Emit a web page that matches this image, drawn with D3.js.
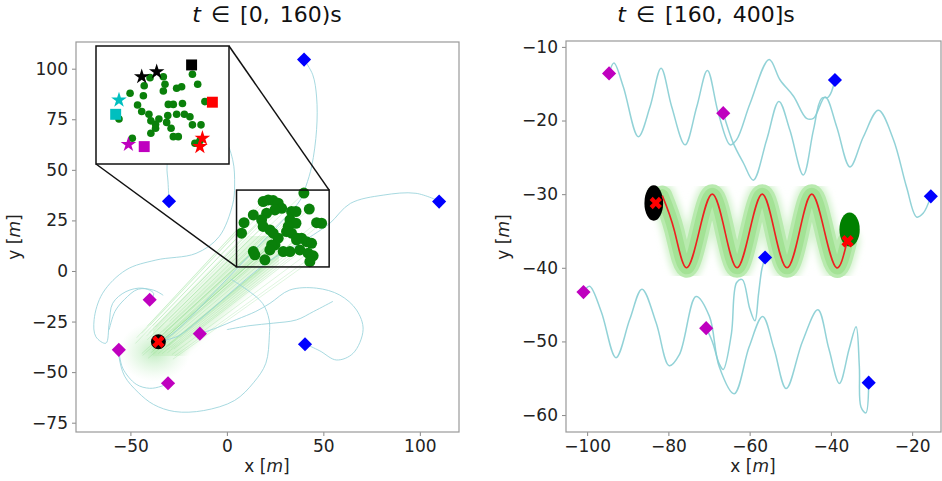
<!DOCTYPE html>
<html><head><meta charset="utf-8">
<script src="https://cdn.jsdelivr.net/npm/d3@7"></script>
<style>body{margin:0;background:#fff} svg{display:block} text{font-family:"DejaVu Sans",sans-serif}</style>
</head><body><svg id="c" width="942" height="481"></svg>
<script>
// ---------------- DATA ----------------
// Left panel: t in [0,160)s
const leftBlueX = [40, -30, 110, 40.5];
const leftBlueY = [104.5, 34.5, 34.3, -36.2];
const leftMagX = [-40, -56, -14, -30.5];
const leftMagY = [-14.2, -39, -31, -55.5];
const leftTarget = [-35.5, -35];
// zoom region of the inset
const zoomX = [5, 53];
const zoomY = [2, 40];
// green agents as seen in the inset
const dotsX = [24.5,29.3,29.9,29.3,22.4,22.1,17.3,20.0,21.5,24.1,24.8,26.5,24.8,18.1,13.3,31.1,32.9,36.2,34.1,35.9,39.8,41.7,44.3,30.9,34.1,36.9,38.9,32.1,32.9,34.7,39.8,42.9,40.7,26.5,30.5,27.7,42.5];
const dotsY = [29.8,30.1,27.7,25.5,27.2,24.0,24.8,21.0,18.9,18.0,15.9,14.8,11.9,10.3,16.5,21.2,21.2,21.5,26.4,26.9,30.9,27.7,22.1,17.6,18.0,18.0,17.2,13.5,10.8,10.8,14.6,14.6,8.7,13.5,15.4,16.5,9.5];
// green agents as seen in the main axes box
const boxDotsX = [39.9,18.8,21.4,24.0,26.6,28.4,24.9,20.6,13.7,8.9,18.0,18.8,22.3,24.0,26.6,24.9,33.5,35.8,42.7,32.7,35.8,31.8,30.9,33.5,36.4,38.7,41.3,43.9,46.5,49.1,37.8,42.1,44.7,43.0,7.6,13.7,14.5,19.7,23.2,22.3,29.2,32.7,36.1];
const boxDotsY = [38.5,34.3,35.1,34.8,33.5,31.0,30.2,28.6,27.7,23.9,25.3,22.0,20.3,18.7,16.2,12.9,29.4,29.4,30.6,25.3,23.6,22.0,19.5,18.7,16.2,16.2,14.5,13.7,23.9,23.6,10.4,8.8,7.5,4.6,18.7,9.6,8.0,5.5,12.9,10.4,9.6,9.6,15.4];
// inset markers
const starX = [21.5, 26.9, 13.3, 43.4, 42.5, 16.7];
const starY = [30.1, 31.7, 22.6, 10.3, 7.6, 8.3];
const starC = ["#000000","#000000","#00bfbf","#ff0000","#ff0000","#bf00bf"];
const sqX = [39.5, 12.1, 47.0, 22.4];
const sqY = [33.9, 18.0, 21.9, 7.6];
const sqC = ["#000000","#00bfbf","#ff0000","#bf00bf"];
// left trajectories (x,y pairs)
const leftTraj1 = [[40,104.5],[44.5,97],[46.5,86],[46.5,70],[44,52],[41,42],[38,35],[30,26],[18,14],[6,2],[-6,-10],[-18,-22],[-28,-31],[-35,-35]];
const leftTraj2 = [[110.9,34.2],[98,38.4],[81,37.5],[64,33.4],[53.4,23.6],[45,18],[35,12],[22,5],[10,-4],[-2,-14],[-14,-24],[-25,-32],[-35,-35]];
const leftTraj3 = [[-30,34.6],[-30.5,44],[-31,52],[-28,65],[-15,72],[-2,66],[3,55],[4,42],[3,33],[-4,17],[-16,8.7],[-36.8,5.4],[-52.3,0.5],[-64.4,-11],[-68.8,-24],[-67.9,-32.5],[-62.7,-35.7],[-61,-25.8],[-59.2,-16],[-52.3,-10.2],[-43.7,-8.5],[-38,-11],[-39,-14]];
const leftTraj4 = [[40.9,-36.2],[48.2,-39.5],[56.8,-44],[65.4,-40.7],[70.6,-29],[67.2,-19.3],[58.5,-11.9],[46.5,-8.5],[32.6,-9.4],[22.3,-16],[15,-20],[5,-24],[-5,-28],[-14,-31]];
const leftTraj5 = [[-56,-39],[-55.8,-43],[-53,-52],[-46,-60],[-38,-66],[-27,-69.5],[-12,-69],[4,-64],[14,-55],[20.2,-45.6],[22,-32],[21.9,-24.2],[18.5,-16],[10,-9],[2,-4]];
const leftTraj6 = [[-56,-39],[-54,-48],[-47,-56],[-40,-58],[-34,-57],[-30.5,-55.5]];
const leftTraj7 = [[-61,-29],[-58,-20],[-53,-14],[-46,-9],[-38,-9.5],[-33,-12]];
const leftTraj8 = [[55,-15],[45,-20],[36,-24.2],[24,-25.8],[12,-27],[0,-29]];

// Right panel: t in [160,400]s
const rightBlueX = [-39.0, -15.4, -56.2, -30.7];
const rightBlueY = [-14.5, -30.3, -38.6, -55.6];
const rightMagX = [-94.6, -66.5, -100.9, -70.7];
const rightMagY = [-13.6, -19.0, -43.3, -48.2];
const waveX = [-81.5,-78.5,-75.6,-72.4,-69.2,-66.1,-63.1,-60.0,-56.9,-53.9,-50.8,-47.7,-44.7,-41.6,-38.6,-36.0];
const waveY = [-30.2,-35,-40,-35,-30,-35,-40,-35,-30,-35,-40,-35,-30,-35,-40,-36.4];
const blobX = [-83.6, -35.4];
const blobY = [-31.2, -34.8];
const blobRx = [2.3, 2.5];
const blobRy = [2.4, 2.3];
const blobC = ["#000000", "#008000"];
const crossX = [-83.1, -35.9];
const crossY = [-31.2, -36.4];
const rightTraj1 = [[-94.6,-13.6],[-93.4,-12.2],[-91.1,-15.4],[-87.4,-22.2],[-84.5,-18.1],[-81.8,-12.9],[-79.2,-18.1],[-75.9,-23.3],[-73.0,-18.1],[-70.4,-13.2],[-67.7,-19.0],[-64.8,-23.3],[-63.2,-22.6],[-59.9,-17.7],[-55.2,-11.7],[-52.5,-14.5],[-49.2,-16.7],[-46.0,-19.7],[-44.3,-19.7],[-41.4,-16.8],[-38.6,-20.8],[-35.3,-26.3],[-32.0,-22.2],[-28.3,-18.6],[-24.6,-22.6],[-21.4,-29.0],[-18.9,-33.1],[-17.3,-32.6],[-15.4,-30.3]];
const rightTraj2 = [[-66.5,-19.0],[-64.0,-23.1],[-61.5,-25.8],[-59.1,-28.1],[-55.8,-22.6],[-52.8,-17.4],[-50.1,-21.3],[-46.8,-27.4],[-44.3,-21.3],[-42.3,-17.0],[-40.6,-16.8],[-39.0,-14.5]];
const rightTraj3 = [[-100.9,-43.3],[-99.4,-42.5],[-96.5,-46],[-92.9,-52.2],[-89.5,-47],[-86.5,-42.9],[-83,-47.5],[-79.8,-53.3],[-77.3,-51.8],[-73.2,-43.9],[-69.9,-46.6],[-67.5,-53.4],[-63.8,-57.1],[-60.1,-50.7],[-56.8,-46.6],[-54,-51],[-51.0,-56.4],[-47,-50],[-43.2,-45.7],[-40.5,-51],[-37.9,-55.7],[-35.5,-51],[-33.8,-48.0],[-33.0,-53.4],[-32.6,-58.9],[-31.4,-59.7],[-30.7,-55.6]];
const rightTraj4 = [[-70.7,-48.2],[-69.2,-50],[-67.5,-53],[-66.5,-53.8],[-64.5,-49],[-63.2,-42],[-61.8,-41.6],[-60,-45.5],[-58.7,-47.2],[-57.8,-43.5],[-57,-40.2],[-56.2,-38.6]];

const leftXTicks = [-50, 0, 50, 100];
const leftYTicks = [100, 75, 50, 25, 0, -25, -50, -75];
const rightXTicks = [-100, -80, -60, -40, -20];
const rightYTicks = [-10, -20, -30, -40, -50, -60];

// ---------------- SCALES ----------------
const svg = d3.select("#c");
const Lx = d3.scaleLinear().domain([-78.2, 120.3]).range([76, 459]);
const Ly = d3.scaleLinear().domain([-79.6, 113.2]).range([432, 42]);
const Rx = d3.scaleLinear().domain([-105.2, -12.9]).range([566, 941]);
const Ry = d3.scaleLinear().domain([-62.3, -9.2]).range([432, 41]);
const Ix = d3.scaleLinear().domain(zoomX).range([96, 229]);
const Iy = d3.scaleLinear().domain(zoomY).range([164, 46]);

const defs = svg.append("defs");
defs.append("clipPath").attr("id","clipL").append("rect").attr("x",76).attr("y",42).attr("width",383).attr("height",390);
defs.append("clipPath").attr("id","clipR").append("rect").attr("x",566).attr("y",41).attr("width",375).attr("height",391);
defs.append("clipPath").attr("id","clipI").append("rect").attr("x",96).attr("y",46).attr("width",133).attr("height",118);
const rg = defs.append("radialGradient").attr("id","glow");
rg.append("stop").attr("offset","0%").attr("stop-color","#7fd87f").attr("stop-opacity",0.5);
rg.append("stop").attr("offset","60%").attr("stop-color","#a8e6a8").attr("stop-opacity",0.22);
rg.append("stop").attr("offset","100%").attr("stop-color","#c8f0c8").attr("stop-opacity",0);
defs.append("filter").attr("id","soft").append("feGaussianBlur").attr("stdDeviation",3);

function axes(g, x, y, xt, yt) {
  const ax = g.append("g").attr("transform",`translate(0,${y.range()[0]})`)
    .call(d3.axisBottom(x).tickValues(xt).tickSize(4).tickPadding(4).tickFormat(d3.format("d")));
  const ay = g.append("g").attr("transform",`translate(${x.range()[0]},0)`)
    .call(d3.axisLeft(y).tickValues(yt).tickSize(4).tickPadding(4).tickFormat(d3.format("d")));
  [ax, ay].forEach(a => {
    a.select(".domain").remove();
    a.selectAll("line").attr("stroke","#888");
    a.selectAll("text").attr("font-size",17).attr("fill","#222").attr("font-family","DejaVu Sans");
  });
  g.append("rect").attr("x",x.range()[0]).attr("y",y.range()[1])
    .attr("width",x.range()[1]-x.range()[0]).attr("height",y.range()[0]-y.range()[1])
    .attr("fill","none").attr("stroke","#999").attr("stroke-width",1.2);
}

const lineGen = (x, y, curve) => d3.line().x(d => x(d[0])).y(d => y(d[1])).curve(curve || d3.curveCatmullRom.alpha(0.5));

// ---------------- LEFT PANEL ----------------
const L = svg.append("g");
const LC = L.append("g").attr("clip-path","url(#clipL)");
// glow at target
LC.append("ellipse").attr("cx",Lx(leftTarget[0]-2)).attr("cy",Ly(leftTarget[1]-5))
  .attr("rx",36).attr("ry",30).attr("fill","url(#glow)");
// green fan (trajectories of green agents to the target)
const mX = d3.mean(boxDotsX), mY = d3.mean(boxDotsY);
LC.append("path").attr("d", lineGen(Lx,Ly,d3.curveLinear)([[mX-8,mY-8],[leftTarget[0]+3,leftTarget[1]-2]]))
  .attr("fill","none").attr("stroke","#bdeab5").attr("stroke-opacity",0.45).attr("stroke-width",38)
  .attr("stroke-linecap","round").attr("filter","url(#soft)");
boxDotsX.forEach((dx,i) => {
  const ex = leftTarget[0] + (dx - mX)*0.55, ey = leftTarget[1] + (boxDotsY[i]-mY)*0.55;
  LC.append("path").attr("d", lineGen(Lx,Ly,d3.curveLinear)([[dx,boxDotsY[i]],[ex,ey]]))
    .attr("fill","none").attr("stroke","#72d572").attr("stroke-opacity",0.22).attr("stroke-width",1);
});
// cyan trajectories
[leftTraj1,leftTraj2,leftTraj3,leftTraj4,leftTraj5,leftTraj6,leftTraj7,leftTraj8].forEach(t => {
  LC.append("path").attr("d", lineGen(Lx,Ly)(t)).attr("fill","none")
    .attr("stroke","#98d2da").attr("stroke-width",1).attr("stroke-opacity",0.85);
});
// green dots in zoom region
boxDotsX.forEach((dx,i) => LC.append("circle").attr("cx",Lx(dx)).attr("cy",Ly(boxDotsY[i])).attr("r",5.5).attr("fill","#0a800a"));
// target
LC.append("circle").attr("cx",Lx(leftTarget[0])).attr("cy",Ly(leftTarget[1])).attr("r",7.5).attr("fill","#000");
LC.append("path").attr("d",d3.symbol(d3.symbolCross,95)())
  .attr("transform",`translate(${Lx(leftTarget[0])},${Ly(leftTarget[1])}) rotate(45)`).attr("fill","#ff0000");
// diamonds
const diamond = d3.symbol(d3.symbolSquare, 100)();
leftBlueX.forEach((v,i) => LC.append("path").attr("d",diamond)
  .attr("transform",`translate(${Lx(v)},${Ly(leftBlueY[i])}) rotate(45)`).attr("fill","#0000ff"));
leftMagX.forEach((v,i) => LC.append("path").attr("d",diamond)
  .attr("transform",`translate(${Lx(v)},${Ly(leftMagY[i])}) rotate(45)`).attr("fill","#bf00bf"));
// zoom box
L.append("rect").attr("x",Lx(zoomX[0])).attr("y",Ly(zoomY[1])).attr("width",Lx(zoomX[1])-Lx(zoomX[0]))
  .attr("height",Ly(zoomY[0])-Ly(zoomY[1])).attr("fill","none").attr("stroke","#111").attr("stroke-width",1.5);
// connectors
L.append("line").attr("x1",Ix.range()[0]).attr("y1",Iy.range()[0]).attr("x2",Lx(zoomX[0])).attr("y2",Ly(zoomY[0]))
  .attr("stroke","#111").attr("stroke-width",1.5);
L.append("line").attr("x1",Ix.range()[1]).attr("y1",Iy.range()[1]).attr("x2",Lx(zoomX[1])).attr("y2",Ly(zoomY[1]))
  .attr("stroke","#111").attr("stroke-width",1.5);
// inset
L.append("rect").attr("x",96).attr("y",46).attr("width",133).attr("height",118).attr("fill","#fff");
const IC = L.append("g").attr("clip-path","url(#clipI)");
dotsX.forEach((dx,i) => IC.append("circle").attr("cx",Ix(dx)).attr("cy",Iy(dotsY[i])).attr("r",3.8).attr("fill","#0a800a"));
sqX.forEach((v,i) => IC.append("path").attr("d",d3.symbol(d3.symbolSquare,120)())
  .attr("transform",`translate(${Ix(v)},${Iy(sqY[i])})`).attr("fill",sqC[i]));
starX.forEach((v,i) => IC.append("path").attr("d",d3.symbol(d3.symbolStar,75)())
  .attr("transform",`translate(${Ix(v)},${Iy(starY[i])})`).attr("fill",starC[i]));
L.append("rect").attr("x",96).attr("y",46).attr("width",133).attr("height",118).attr("fill","none")
  .attr("stroke","#111").attr("stroke-width",1.5);
axes(L, Lx, Ly, leftXTicks, leftYTicks);

// ---------------- RIGHT PANEL ----------------
const R = svg.append("g");
const RC = R.append("g").attr("clip-path","url(#clipR)");
[rightTraj1,rightTraj2,rightTraj3,rightTraj4].forEach(t => {
  RC.append("path").attr("d", lineGen(Rx,Ry)(t)).attr("fill","none")
    .attr("stroke","#86cdd3").attr("stroke-width",1.5).attr("stroke-opacity",0.9);
});
const wave = waveX.map((v,i) => [v, waveY[i]]);
const waveLine = lineGen(Rx,Ry,d3.curveNatural);
RC.append("path").attr("d",waveLine(wave)).attr("fill","none").attr("stroke","#d6f3d0").attr("stroke-width",26).attr("stroke-linecap","round").attr("stroke-linejoin","round").attr("filter","url(#soft)");
RC.append("path").attr("d",waveLine(wave)).attr("fill","none").attr("stroke","#b8eaae").attr("stroke-width",20).attr("stroke-linecap","round").attr("stroke-linejoin","round");
RC.append("path").attr("d",waveLine(wave)).attr("fill","none").attr("stroke","#a3e295").attr("stroke-width",13).attr("stroke-linecap","round").attr("stroke-linejoin","round");
blobX.forEach((v,i) => RC.append("ellipse").attr("cx",Rx(v)).attr("cy",Ry(blobY[i]))
  .attr("rx",Rx(v+blobRx[i])-Rx(v)).attr("ry",Ry(blobY[i]-blobRy[i])-Ry(blobY[i])).attr("fill",blobC[i]));
RC.append("path").attr("d",waveLine(wave)).attr("fill","none").attr("stroke","#ee2020").attr("stroke-width",1.6);
crossX.forEach((v,i) => RC.append("path").attr("d",d3.symbol(d3.symbolCross,95)())
  .attr("transform",`translate(${Rx(v)},${Ry(crossY[i])}) rotate(45)`).attr("fill","#ff0000"));
rightBlueX.forEach((v,i) => RC.append("path").attr("d",diamond)
  .attr("transform",`translate(${Rx(v)},${Ry(rightBlueY[i])}) rotate(45)`).attr("fill","#0000ff"));
rightMagX.forEach((v,i) => RC.append("path").attr("d",diamond)
  .attr("transform",`translate(${Rx(v)},${Ry(rightMagY[i])}) rotate(45)`).attr("fill","#bf00bf"));
axes(R, Rx, Ry, rightXTicks, rightYTicks);

// ---------------- TEXT ----------------
function title(x, rest) {
  const t = svg.append("text").attr("x",x).attr("y",22).attr("text-anchor","middle")
    .attr("font-family","Liberation Serif").attr("font-size",22).attr("word-spacing",3).attr("fill","#111");
  t.append("tspan").attr("font-style","italic").text("t");
  t.append("tspan").text(rest);
}
title(267, " ∈ [0, 160)s");
title(706, " ∈ [160, 400]s");
function xlab(x) {
  const t = svg.append("text").attr("x",x).attr("y",472).attr("text-anchor","middle").attr("font-size",17).attr("fill","#222");
  t.append("tspan").text("x [");
  t.append("tspan").attr("font-style","italic").text("m");
  t.append("tspan").text("]");
}
function ylab(x, y) {
  const t = svg.append("text").attr("transform",`translate(${x},${y}) rotate(-90)`).attr("text-anchor","middle").attr("font-size",17).attr("fill","#222");
  t.append("tspan").text("y [");
  t.append("tspan").attr("font-style","italic").text("m");
  t.append("tspan").text("]");
}
xlab(267); xlab(753);
ylab(20, 237); ylab(509, 237);
</script></body></html>
